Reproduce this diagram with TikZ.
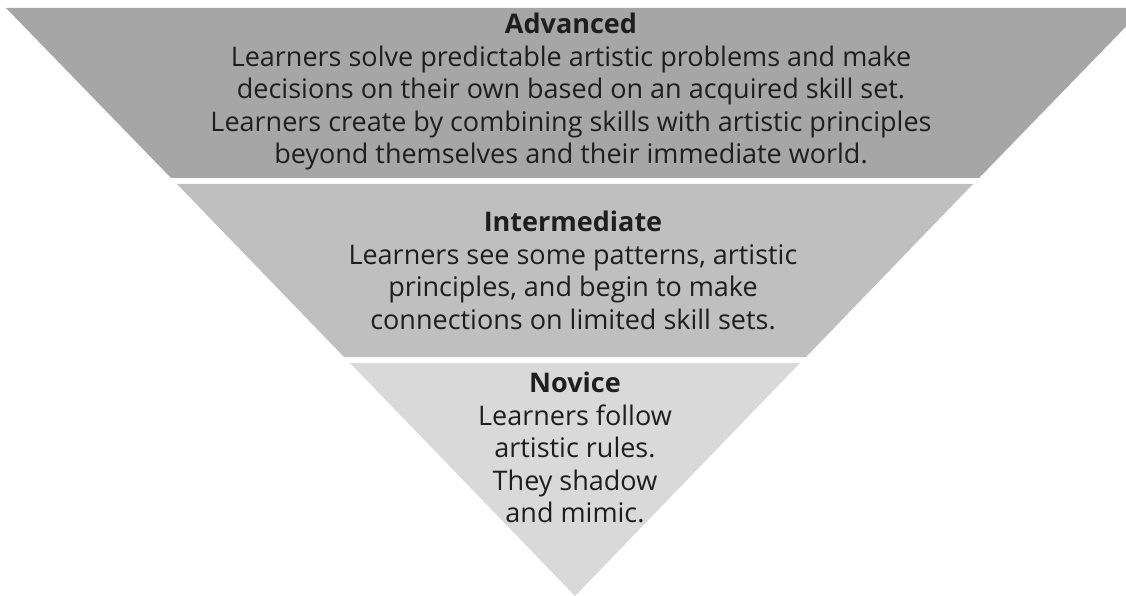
\documentclass[tikz,border=0pt]{standalone}
\usepackage{fontspec}
\setmainfont{Open Sans}
\usepackage{tikz}
\usetikzlibrary{calc}
\definecolor{advgray}{HTML}{A6A6A6}
\definecolor{midgray}{HTML}{BFBFBF}
\definecolor{novgray}{HTML}{D9D9D9}
\definecolor{txtgray}{HTML}{1E1E1E}

\begin{document}
\begin{tikzpicture}[x=1pt,y=-1pt,
  lvltext/.style={align=center,inner sep=0pt,anchor=north,text=txtgray,
    font=\fontsize{27}{32.5}\selectfont}]
\useasboundingbox (0,0) rectangle (1126,596);
\clip (0,0) rectangle (1126,596);
% the three bands of the inverted pyramid
\fill[advgray] (6,8) -- (1144,8) -- (979,178) -- (171,178) -- cycle;
\fill[midgray] (177,184) -- (973,184) -- (806,357) -- (344,357) -- cycle;
\fill[novgray] (350,363) -- (800,363) -- (575,596) -- cycle;
% texts
\node[lvltext] (adv) at (571,13) {\textbf{Advanced}\\
Learners solve predictable artistic problems and make\\
decisions on their own based on an acquired skill set.\\
Learners create by combining skills with artistic principles\\
beyond themselves and their immediate world.};
\node[lvltext] (inter) at (573,211) {\textbf{Intermediate}\\
Learners see some patterns, artistic\\
principles, and begin to make\\
connections on limited skill sets.};
\node[lvltext] (nov) at (575,372) {\textbf{Novice}\\
Learners follow\\
artistic rules.\\
They shadow\\
and mimic.};
\end{tikzpicture}
\end{document}
